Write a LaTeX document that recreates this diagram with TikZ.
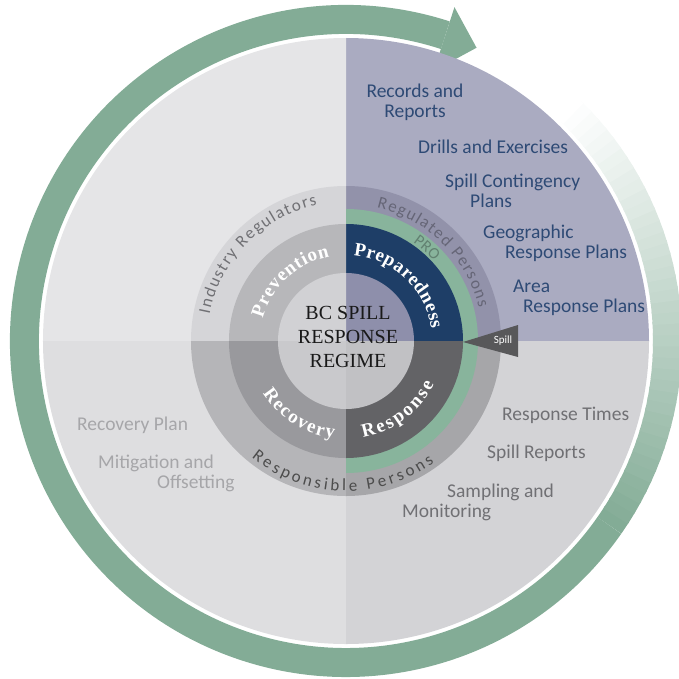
\documentclass[tikz,border=0pt]{standalone}
\usepackage{fontspec}
\setmainfont{Liberation Serif}
\newfontfamily\labelfont{Carlito}
\usepackage{tikz}
\usetikzlibrary{decorations.text, positioning}

\definecolor{arrowgreen}{RGB}{131,172,150}
\definecolor{discTL}{RGB}{229,229,231}
\definecolor{discTR}{RGB}{170,171,193}
\definecolor{discBL}{RGB}{222,222,224}
\definecolor{discBR}{RGB}{211,211,214}
\definecolor{personsTL}{RGB}{213,213,216}
\definecolor{personsTR}{RGB}{146,146,170}
\definecolor{personsBL}{RGB}{181,181,184}
\definecolor{personsBR}{RGB}{166,166,169}
\definecolor{proGreen}{RGB}{136,180,156}
\definecolor{midTL}{RGB}{183,183,186}
\definecolor{midTR}{RGB}{30,62,103}
\definecolor{midBL}{RGB}{153,153,157}
\definecolor{midBR}{RGB}{99,99,102}
\definecolor{coreTL}{RGB}{209,209,212}
\definecolor{coreTR}{RGB}{142,143,171}
\definecolor{coreBL}{RGB}{201,201,204}
\definecolor{coreBR}{RGB}{193,193,196}
\definecolor{navyText}{RGB}{46,74,117}
\definecolor{greyText}{RGB}{112,112,116}
\definecolor{paleText}{RGB}{166,166,169}
\definecolor{spillGrey}{RGB}{88,88,90}

\begin{document}
\begin{tikzpicture}[x=1pt,y=1pt,
    phase text/.style={decorate,decoration={text along path,text align=fit to path,text color=white,
        text={|\bfseries\fontsize{19}{19}\selectfont|#1}}},
    person text/.style 2 args={decorate,decoration={text along path,text align=fit to path,text color=#2,
        text={|\labelfont\fontsize{17}{17}\selectfont|#1}}},
    item/.style={font=\labelfont\fontsize{19.5}{20}\selectfont,inner sep=0pt,align=left}]
\useasboundingbox (-346,-337) rectangle (333,341);

%Outer arrow
\draw[line width=29pt,arrowgreen] (72:321.5) arc[start angle=72,end angle=325,radius=321.5];
\foreach \a in {-35,-33,...,45}
  {\pgfmathtruncatemacro{\fade}{100-(\a+35)*100/80}
   \draw[line width=29pt,arrowgreen!\fade!white] (\a:321.5) arc[start angle=\a,delta angle=2.5,radius=321.5];}
\fill[arrowgreen] (72:284) -- (66:321) -- (72:351) -- cycle;

%Quadrants, from the outside in
\foreach \a/\c in {0/discTR,90/discTL,180/discBL,270/discBR}
  \fill[\c] (0,0) -- (\a:303) arc[start angle=\a,delta angle=90,radius=303] -- cycle;
\foreach \a/\c in {0/personsTR,90/personsTL,180/personsBL,270/personsBR}
  \fill[\c] (0,0) -- (\a:155) arc[start angle=\a,delta angle=90,radius=155] -- cycle;
\fill[proGreen] (0,0) -- (-90:132) arc[start angle=-90,end angle=90,radius=132] -- cycle;
\foreach \a/\c in {0/midTR,90/midTL,180/midBL,270/midBR}
  \fill[\c] (0,0) -- (\a:117) arc[start angle=\a,delta angle=90,radius=117] -- cycle;
\foreach \a/\c in {0/coreTR,90/coreTL,180/coreBL,270/coreBR}
  \fill[\c] (0,0) -- (\a:68) arc[start angle=\a,delta angle=90,radius=68] -- cycle;

%Spill marker
\fill[spillGrey] (117,-1) -- (172,16) -- (172,-16) -- cycle;
\node[font=\labelfont\fontsize{11}{11}\selectfont,text=white,inner sep=0pt] (spill) at (157,0) {Spill};

%Centre
\node[font=\fontsize{20}{24}\selectfont,align=center,text=black!90] (regime) at (2,4) {BC SPILL\\RESPONSE\\REGIME};

%Phases
\path[phase text=Prevention] (165:86) arc[start angle=165,end angle=101,radius=86];
\path[phase text=Preparedness] (85:86) arc[start angle=85,end angle=8,radius=86];
\path[phase text=Recovery] (212:98) arc[start angle=212,end angle=263,radius=98];
\path[phase text=Response] (-80:98) arc[start angle=-80,end angle=-26,radius=98];

%Persons ring
\path[person text={Industry Regulators}{greyText}] (169:139) arc[start angle=169,end angle=102,radius=139];
\path[person text={Regulated Persons}{personsTR!70!black}] (77:137) arc[start angle=77,end angle=14,radius=137];
\path[person text={Responsible Persons}{black!70}] (231:150) arc[start angle=231,end angle=306,radius=150];
\path[decorate,decoration={text along path,text align=center,text color=arrowgreen!75!black,
    text={|\labelfont\fontsize{16}{16}\selectfont|PRO}}] (90:119) arc[start angle=90,end angle=8,radius=119];

%Preparedness items
\node[item,text=navyText,align=center] (records) at (69,239) {Records and\\Reports};
\node[item,text=navyText,anchor=west] (drills) at (72,194) {Drills and Exercises};
\node[item,text=navyText,anchor=west] (contingency) at (99,150.5) {Spill Contingency\\\hspace*{25pt}Plans};
\node[item,text=navyText,anchor=west] (geographic) at (137,98) {Geographic\\\hspace*{22pt}Response Plans};
\node[item,text=navyText,anchor=west] (area) at (167,43) {Area\\\hspace*{10pt}Response Plans};

%Response items
\node[item,text=greyText,anchor=west] (times) at (156,-74) {Response Times};
\node[item,text=greyText,anchor=west] (reports) at (141,-112) {Spill Reports};
\node[item,text=greyText,anchor=west] (sampling) at (56,-161) {\hspace*{45pt}Sampling and\\Monitoring};

%Recovery items
\node[item,text=paleText,anchor=west] (plan) at (-269,-84) {Recovery Plan};
\node[item,text=paleText,anchor=west] (mitigation) at (-248,-132) {Mitigation and\\\hspace*{59pt}Offsetting};

\end{tikzpicture}
\end{document}
